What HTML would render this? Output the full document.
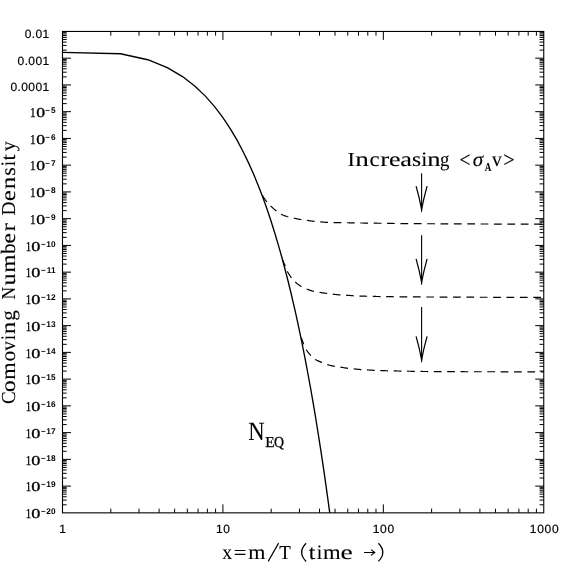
<!DOCTYPE html>
<html><head><meta charset="utf-8"><title>Comoving Number Density</title>
<style>
html,body{margin:0;padding:0;background:#fff;}
body{width:574px;height:574px;overflow:hidden;font-family:"Liberation Sans",sans-serif;}
svg{display:block}
text{fill:#000}
</style></head><body>
<svg width="574" height="574" viewBox="0 0 574 574">
<desc>Comoving Number Density versus x=m/T (time). Solid curve N EQ; dashed curves for Increasing annihilation cross section sigma A v.</desc>
<rect width="574" height="574" fill="#fff"/>
<path d="M110.79 512.85v-4.2M110.79 31.45v4.2M139.04 512.85v-4.2M139.04 31.45v4.2M159.08 512.85v-4.2M159.08 31.45v4.2M174.63 512.85v-4.2M174.63 31.45v4.2M187.33 512.85v-4.2M187.33 31.45v4.2M198.07 512.85v-4.2M198.07 31.45v4.2M207.37 512.85v-4.2M207.37 31.45v4.2M215.58 512.85v-4.2M215.58 31.45v4.2M222.92 512.85v-8.5M222.92 31.45v8.5M271.21 512.85v-4.2M271.21 31.45v4.2M299.45 512.85v-4.2M299.45 31.45v4.2M319.5 512.85v-4.2M319.5 31.45v4.2M335.04 512.85v-4.2M335.04 31.45v4.2M347.75 512.85v-4.2M347.75 31.45v4.2M358.48 512.85v-4.2M358.48 31.45v4.2M367.79 512.85v-4.2M367.79 31.45v4.2M375.99 512.85v-4.2M375.99 31.45v4.2M383.33 512.85v-8.5M383.33 31.45v8.5M431.62 512.85v-4.2M431.62 31.45v4.2M459.87 512.85v-4.2M459.87 31.45v4.2M479.91 512.85v-4.2M479.91 31.45v4.2M495.46 512.85v-4.2M495.46 31.45v4.2M508.16 512.85v-4.2M508.16 31.45v4.2M518.9 512.85v-4.2M518.9 31.45v4.2M528.2 512.85v-4.2M528.2 31.45v4.2M536.41 512.85v-4.2M536.41 31.45v4.2M62.5 58.19h8.5M543.75 58.19h-8.5M62.5 50.14h4.2M543.75 50.14h-4.2M62.5 45.43h4.2M543.75 45.43h-4.2M62.5 42.09h4.2M543.75 42.09h-4.2M62.5 39.5h4.2M543.75 39.5h-4.2M62.5 37.38h4.2M543.75 37.38h-4.2M62.5 35.59h4.2M543.75 35.59h-4.2M62.5 34.04h4.2M543.75 34.04h-4.2M62.5 32.67h4.2M543.75 32.67h-4.2M62.5 84.94h8.5M543.75 84.94h-8.5M62.5 76.89h4.2M543.75 76.89h-4.2M62.5 72.18h4.2M543.75 72.18h-4.2M62.5 68.84h4.2M543.75 68.84h-4.2M62.5 66.25h4.2M543.75 66.25h-4.2M62.5 64.13h4.2M543.75 64.13h-4.2M62.5 62.34h4.2M543.75 62.34h-4.2M62.5 60.79h4.2M543.75 60.79h-4.2M62.5 59.42h4.2M543.75 59.42h-4.2M62.5 111.68h8.5M543.75 111.68h-8.5M62.5 103.63h4.2M543.75 103.63h-4.2M62.5 98.92h4.2M543.75 98.92h-4.2M62.5 95.58h4.2M543.75 95.58h-4.2M62.5 92.99h4.2M543.75 92.99h-4.2M62.5 90.87h4.2M543.75 90.87h-4.2M62.5 89.08h4.2M543.75 89.08h-4.2M62.5 87.53h4.2M543.75 87.53h-4.2M62.5 86.16h4.2M543.75 86.16h-4.2M62.5 138.43h8.5M543.75 138.43h-8.5M62.5 130.38h4.2M543.75 130.38h-4.2M62.5 125.67h4.2M543.75 125.67h-4.2M62.5 122.33h4.2M543.75 122.33h-4.2M62.5 119.73h4.2M543.75 119.73h-4.2M62.5 117.62h4.2M543.75 117.62h-4.2M62.5 115.83h4.2M543.75 115.83h-4.2M62.5 114.28h4.2M543.75 114.28h-4.2M62.5 112.91h4.2M543.75 112.91h-4.2M62.5 165.17h8.5M543.75 165.17h-8.5M62.5 157.12h4.2M543.75 157.12h-4.2M62.5 152.41h4.2M543.75 152.41h-4.2M62.5 149.07h4.2M543.75 149.07h-4.2M62.5 146.48h4.2M543.75 146.48h-4.2M62.5 144.36h4.2M543.75 144.36h-4.2M62.5 142.57h4.2M543.75 142.57h-4.2M62.5 141.02h4.2M543.75 141.02h-4.2M62.5 139.65h4.2M543.75 139.65h-4.2M62.5 191.92h8.5M543.75 191.92h-8.5M62.5 183.87h4.2M543.75 183.87h-4.2M62.5 179.16h4.2M543.75 179.16h-4.2M62.5 175.81h4.2M543.75 175.81h-4.2M62.5 173.22h4.2M543.75 173.22h-4.2M62.5 171.11h4.2M543.75 171.11h-4.2M62.5 169.31h4.2M543.75 169.31h-4.2M62.5 167.76h4.2M543.75 167.76h-4.2M62.5 166.4h4.2M543.75 166.4h-4.2M62.5 218.66h8.5M543.75 218.66h-8.5M62.5 210.61h4.2M543.75 210.61h-4.2M62.5 205.9h4.2M543.75 205.9h-4.2M62.5 202.56h4.2M543.75 202.56h-4.2M62.5 199.97h4.2M543.75 199.97h-4.2M62.5 197.85h4.2M543.75 197.85h-4.2M62.5 196.06h4.2M543.75 196.06h-4.2M62.5 194.51h4.2M543.75 194.51h-4.2M62.5 193.14h4.2M543.75 193.14h-4.2M62.5 245.41h8.5M543.75 245.41h-8.5M62.5 237.35h4.2M543.75 237.35h-4.2M62.5 232.65h4.2M543.75 232.65h-4.2M62.5 229.3h4.2M543.75 229.3h-4.2M62.5 226.71h4.2M543.75 226.71h-4.2M62.5 224.59h4.2M543.75 224.59h-4.2M62.5 222.8h4.2M543.75 222.8h-4.2M62.5 221.25h4.2M543.75 221.25h-4.2M62.5 219.88h4.2M543.75 219.88h-4.2M62.5 272.15h8.5M543.75 272.15h-8.5M62.5 264.1h4.2M543.75 264.1h-4.2M62.5 259.39h4.2M543.75 259.39h-4.2M62.5 256.05h4.2M543.75 256.05h-4.2M62.5 253.46h4.2M543.75 253.46h-4.2M62.5 251.34h4.2M543.75 251.34h-4.2M62.5 249.55h4.2M543.75 249.55h-4.2M62.5 248h4.2M543.75 248h-4.2M62.5 246.63h4.2M543.75 246.63h-4.2M62.5 298.89h8.5M543.75 298.89h-8.5M62.5 290.84h4.2M543.75 290.84h-4.2M62.5 286.13h4.2M543.75 286.13h-4.2M62.5 282.79h4.2M543.75 282.79h-4.2M62.5 280.2h4.2M543.75 280.2h-4.2M62.5 278.08h4.2M543.75 278.08h-4.2M62.5 276.29h4.2M543.75 276.29h-4.2M62.5 274.74h4.2M543.75 274.74h-4.2M62.5 273.37h4.2M543.75 273.37h-4.2M62.5 325.64h8.5M543.75 325.64h-8.5M62.5 317.59h4.2M543.75 317.59h-4.2M62.5 312.88h4.2M543.75 312.88h-4.2M62.5 309.54h4.2M543.75 309.54h-4.2M62.5 306.95h4.2M543.75 306.95h-4.2M62.5 304.83h4.2M543.75 304.83h-4.2M62.5 303.04h4.2M543.75 303.04h-4.2M62.5 301.49h4.2M543.75 301.49h-4.2M62.5 300.12h4.2M543.75 300.12h-4.2M62.5 352.38h8.5M543.75 352.38h-8.5M62.5 344.33h4.2M543.75 344.33h-4.2M62.5 339.62h4.2M543.75 339.62h-4.2M62.5 336.28h4.2M543.75 336.28h-4.2M62.5 333.69h4.2M543.75 333.69h-4.2M62.5 331.57h4.2M543.75 331.57h-4.2M62.5 329.78h4.2M543.75 329.78h-4.2M62.5 328.23h4.2M543.75 328.23h-4.2M62.5 326.86h4.2M543.75 326.86h-4.2M62.5 379.13h8.5M543.75 379.13h-8.5M62.5 371.08h4.2M543.75 371.08h-4.2M62.5 366.37h4.2M543.75 366.37h-4.2M62.5 363.03h4.2M543.75 363.03h-4.2M62.5 360.43h4.2M543.75 360.43h-4.2M62.5 358.32h4.2M543.75 358.32h-4.2M62.5 356.53h4.2M543.75 356.53h-4.2M62.5 354.98h4.2M543.75 354.98h-4.2M62.5 353.61h4.2M543.75 353.61h-4.2M62.5 405.87h8.5M543.75 405.87h-8.5M62.5 397.82h4.2M543.75 397.82h-4.2M62.5 393.11h4.2M543.75 393.11h-4.2M62.5 389.77h4.2M543.75 389.77h-4.2M62.5 387.18h4.2M543.75 387.18h-4.2M62.5 385.06h4.2M543.75 385.06h-4.2M62.5 383.27h4.2M543.75 383.27h-4.2M62.5 381.72h4.2M543.75 381.72h-4.2M62.5 380.35h4.2M543.75 380.35h-4.2M62.5 432.62h8.5M543.75 432.62h-8.5M62.5 424.57h4.2M543.75 424.57h-4.2M62.5 419.86h4.2M543.75 419.86h-4.2M62.5 416.51h4.2M543.75 416.51h-4.2M62.5 413.92h4.2M543.75 413.92h-4.2M62.5 411.81h4.2M543.75 411.81h-4.2M62.5 410.01h4.2M543.75 410.01h-4.2M62.5 408.46h4.2M543.75 408.46h-4.2M62.5 407.1h4.2M543.75 407.1h-4.2M62.5 459.36h8.5M543.75 459.36h-8.5M62.5 451.31h4.2M543.75 451.31h-4.2M62.5 446.6h4.2M543.75 446.6h-4.2M62.5 443.26h4.2M543.75 443.26h-4.2M62.5 440.67h4.2M543.75 440.67h-4.2M62.5 438.55h4.2M543.75 438.55h-4.2M62.5 436.76h4.2M543.75 436.76h-4.2M62.5 435.21h4.2M543.75 435.21h-4.2M62.5 433.84h4.2M543.75 433.84h-4.2M62.5 486.11h8.5M543.75 486.11h-8.5M62.5 478.05h4.2M543.75 478.05h-4.2M62.5 473.35h4.2M543.75 473.35h-4.2M62.5 470h4.2M543.75 470h-4.2M62.5 467.41h4.2M543.75 467.41h-4.2M62.5 465.29h4.2M543.75 465.29h-4.2M62.5 463.5h4.2M543.75 463.5h-4.2M62.5 461.95h4.2M543.75 461.95h-4.2M62.5 460.58h4.2M543.75 460.58h-4.2M62.5 504.8h4.2M543.75 504.8h-4.2M62.5 500.09h4.2M543.75 500.09h-4.2M62.5 496.75h4.2M543.75 496.75h-4.2M62.5 494.16h4.2M543.75 494.16h-4.2M62.5 492.04h4.2M543.75 492.04h-4.2M62.5 490.25h4.2M543.75 490.25h-4.2M62.5 488.7h4.2M543.75 488.7h-4.2M62.5 487.33h4.2M543.75 487.33h-4.2" stroke="#000" stroke-width="1" fill="none"/>
<rect x="62.5" y="31.45" width="481.25" height="481.4" fill="none" stroke="#000" stroke-width="1.1"/>
<path d="M62.5 52.4 L120.53 53.76 L147.76 59.73 L167.29 67.62 L182.52 76.59 L195.02 86.24 L205.61 96.37 L214.8 106.85 L222.92 117.59 L230.19 128.55 L236.77 139.68 L242.78 150.95 L248.32 162.35 L253.45 173.84 L258.23 185.42 L262.7 197.08 L266.9 208.81 L270.86 220.59 L274.61 232.43 L278.16 244.32 L281.55 256.25 L284.77 268.22 L287.86 280.22 L290.81 292.26 L293.65 304.33 L296.37 316.42 L298.99 328.54 L301.51 340.69 L303.95 352.86 L306.31 365.04 L308.58 377.25 L310.79 389.48 L312.93 401.72 L315 413.98 L317.02 426.25 L318.97 438.54 L320.88 450.84 L322.73 463.15 L324.54 475.47 L326.3 487.81 L328.01 500.16 L329.69 512.51 L329.73 512.85" stroke="#000" stroke-width="1.35" fill="none" stroke-linejoin="round"/>
<path d="M261.8 194.3 L262.16 194.95 L262.52 195.58 L262.9 196.22 L263.28 196.84 L263.67 197.46 L264.08 198.07 L264.49 198.67 L264.9 199.27 L265.33 199.86 L265.76 200.45 L266.2 201.03 L266.65 201.6 L267.11 202.16 L267.59 202.72 L268.07 203.27 L268.57 203.81 L269.07 204.35 L269.57 204.87 L270.08 205.39 L270.6 205.91 L271.12 206.42 L271.65 206.93 L272.18 207.43 L272.72 207.93 L273.26 208.42 L273.81 208.91 L274.36 209.39 L274.92 209.86 L275.48 210.32 L276.05 210.78 L276.62 211.25 L277.19 211.71 L277.78 212.16 L278.37 212.6 L278.97 213.02 L279.58 213.41 L280.21 213.76 L280.85 214.09 L281.5 214.4 L282.16 214.71 L282.83 215.01 L283.51 215.29 L284.2 215.56 L284.89 215.82 L285.59 216.07 L286.28 216.3 L286.98 216.53 L287.68 216.74 L288.38 216.93 L289.08 217.12 L289.79 217.29 L290.51 217.45 L291.22 217.6 L291.94 217.75 L292.66 217.91 L293.37 218.06 L294.09 218.22 L294.8 218.37 L295.52 218.53 L296.23 218.68 L296.95 218.83 L297.66 218.98 L298.38 219.13 L299.1 219.27 L299.81 219.4 L300.53 219.52 L301.25 219.64 L301.98 219.75 L302.7 219.85 L303.42 219.95 L304.15 220.04 L304.87 220.13 L305.6 220.22 L306.32 220.32 L307.05 220.41 L307.77 220.51 L308.5 220.61 L309.22 220.72 L309.95 220.82 L310.67 220.91 L311.39 221.01 L312.12 221.1 L312.85 221.18 L313.57 221.26 L314.3 221.33 L315.03 221.39 L315.75 221.44 L316.48 221.5 L317.21 221.55 L317.94 221.6 L318.67 221.65 L319.4 221.71 L320.13 221.77 L320.86 221.85 L321.58 221.92 L322.31 222 L323.04 222.08 L323.77 222.16 L324.49 222.23 L325.22 222.29 L325.95 222.34 L326.68 222.38 L327.41 222.41 L328.14 222.43 L328.86 222.45 L329.59 222.47 L330.32 222.48 L331.05 222.5 L331.79 222.51 L332.52 222.53 L333.25 222.54 L333.98 222.55 L334.71 222.56 L335.44 222.57 L336.17 222.58 L336.9 222.59 L337.63 222.6 L338.36 222.61 L339.09 222.62 L339.83 222.63 L340.56 222.64 L341.29 222.65 L342.02 222.65 L342.75 222.66 L343.48 222.68 L344.21 222.69 L344.94 222.7 L345.67 222.71 L346.4 222.72 L347.13 222.74 L347.86 222.75 L348.6 222.76 L349.33 222.78 L350.06 222.79 L350.79 222.8 L351.52 222.82 L352.25 222.83 L352.98 222.85 L353.71 222.86 L354.44 222.87 L355.17 222.89 L355.9 222.9 L356.63 222.91 L357.36 222.93 L358.09 222.94 L358.82 222.95 L359.56 222.96 L360.29 222.98 L361.02 222.99 L361.75 223 L362.48 223.01 L363.21 223.02 L363.94 223.03 L364.67 223.04 L365.4 223.06 L366.13 223.07 L366.86 223.08 L367.59 223.09 L368.32 223.1 L369.05 223.11 L369.78 223.12 L370.52 223.13 L371.25 223.14 L371.98 223.15 L372.71 223.16 L373.44 223.17 L374.17 223.18 L374.9 223.19 L375.63 223.2 L376.36 223.21 L377.09 223.22 L377.82 223.23 L378.55 223.24 L379.28 223.25 L380.01 223.26 L380.74 223.27 L381.48 223.28 L382.21 223.29 L382.94 223.3 L383.67 223.31 L384.4 223.32 L385.13 223.33 L385.86 223.34 L386.59 223.35 L387.32 223.37 L388.05 223.38 L388.78 223.39 L389.51 223.4 L390.24 223.42 L390.97 223.43 L391.71 223.44 L392.44 223.45 L393.17 223.46 L393.9 223.48 L394.63 223.49 L395.36 223.5 L396.09 223.51 L396.82 223.52 L397.55 223.53 L398.28 223.54 L399.01 223.55 L399.74 223.56 L400.47 223.57 L401.2 223.58 L401.93 223.58 L402.67 223.59 L403.4 223.6 L404.13 223.6 L404.86 223.61 L405.59 223.62 L406.32 223.62 L407.05 223.63 L407.78 223.63 L408.51 223.64 L409.24 223.64 L409.97 223.65 L410.7 223.65 L411.43 223.66 L412.16 223.66 L412.9 223.67 L413.63 223.67 L414.36 223.68 L415.09 223.68 L415.82 223.68 L416.55 223.69 L417.28 223.69 L418.01 223.7 L418.74 223.7 L419.47 223.7 L420.2 223.71 L420.93 223.71 L421.66 223.72 L422.4 223.72 L423.13 223.72 L423.86 223.73 L424.59 223.73 L425.32 223.73 L426.05 223.74 L426.78 223.74 L427.51 223.74 L428.24 223.75 L428.97 223.75 L429.7 223.75 L430.43 223.76 L431.16 223.76 L431.89 223.76 L432.63 223.77 L433.36 223.77 L434.09 223.77 L434.82 223.78 L435.55 223.78 L436.28 223.78 L437.01 223.79 L437.74 223.79 L438.47 223.79 L439.2 223.8 L439.93 223.8 L440.66 223.8 L441.39 223.81 L442.13 223.81 L442.86 223.81 L443.59 223.82 L444.32 223.82 L445.05 223.82 L445.78 223.83 L446.51 223.83 L447.24 223.83 L447.97 223.84 L448.7 223.84 L449.43 223.84 L450.16 223.85 L450.89 223.85 L451.63 223.85 L452.36 223.86 L453.09 223.86 L453.82 223.86 L454.55 223.87 L455.28 223.87 L456.01 223.87 L456.74 223.88 L457.47 223.88 L458.2 223.88 L458.93 223.89 L459.66 223.89 L460.39 223.89 L461.12 223.9 L461.86 223.9 L462.59 223.9 L463.32 223.91 L464.05 223.91 L464.78 223.91 L465.51 223.92 L466.24 223.92 L466.97 223.92 L467.7 223.93 L468.43 223.93 L469.16 223.93 L469.89 223.93 L470.62 223.94 L471.36 223.94 L472.09 223.94 L472.82 223.95 L473.55 223.95 L474.28 223.95 L475.01 223.96 L475.74 223.96 L476.47 223.96 L477.2 223.97 L477.93 223.97 L478.66 223.97 L479.39 223.98 L480.12 223.98 L480.86 223.98 L481.59 223.98 L482.32 223.99 L483.05 223.99 L483.78 223.99 L484.51 224 L485.24 224 L485.97 224 L486.7 224.01 L487.43 224.01 L488.16 224.01 L488.89 224.01 L489.62 224.02 L490.36 224.02 L491.09 224.02 L491.82 224.03 L492.55 224.03 L493.28 224.03 L494.01 224.03 L494.74 224.04 L495.47 224.04 L496.2 224.04 L496.93 224.05 L497.66 224.05 L498.39 224.05 L499.12 224.05 L499.85 224.06 L500.59 224.06 L501.32 224.06 L502.05 224.07 L502.78 224.07 L503.51 224.07 L504.24 224.07 L504.97 224.08 L505.7 224.08 L506.43 224.08 L507.16 224.08 L507.89 224.09 L508.62 224.09 L509.35 224.09 L510.09 224.09 L510.82 224.1 L511.55 224.1 L512.28 224.1 L513.01 224.11 L513.74 224.11 L514.47 224.11 L515.2 224.11 L515.93 224.12 L516.66 224.12 L517.39 224.12 L518.12 224.12 L518.85 224.13 L519.59 224.13 L520.32 224.13 L521.05 224.13 L521.78 224.13 L522.51 224.14 L523.24 224.14 L523.97 224.14 L524.7 224.14 L525.43 224.15 L526.16 224.15 L526.89 224.15 L527.62 224.15 L528.35 224.16 L529.08 224.16 L529.82 224.16 L530.55 224.16 L531.28 224.16 L532.01 224.17 L532.74 224.17 L533.47 224.17 L534.2 224.17 L534.93 224.18 L535.66 224.18 L536.39 224.18 L537.12 224.18 L537.85 224.18 L538.58 224.19 L539.32 224.19 L540.05 224.19 L540.78 224.19 L541.51 224.19 L542.24 224.2 L542.97 224.2 L543.7 224.2" stroke="#000" stroke-width="1.2" fill="none" stroke-dasharray="7.72 5.65" stroke-dashoffset="12.08"/>
<path d="M282.6 260.1 L282.9 260.73 L283.19 261.36 L283.48 261.99 L283.76 262.62 L284.05 263.25 L284.32 263.89 L284.6 264.53 L284.87 265.16 L285.14 265.8 L285.4 266.44 L285.65 267.09 L285.89 267.75 L286.12 268.4 L286.36 269.06 L286.61 269.7 L286.88 270.34 L287.17 270.96 L287.48 271.58 L287.8 272.19 L288.13 272.8 L288.48 273.41 L288.83 274.01 L289.2 274.6 L289.58 275.19 L289.96 275.77 L290.36 276.35 L290.75 276.91 L291.16 277.47 L291.57 278.02 L291.99 278.57 L292.44 279.11 L292.89 279.64 L293.36 280.16 L293.84 280.66 L294.33 281.14 L294.83 281.61 L295.34 282.08 L295.87 282.53 L296.4 282.99 L296.94 283.43 L297.48 283.87 L298.04 284.3 L298.6 284.71 L299.17 285.12 L299.75 285.51 L300.33 285.89 L300.91 286.25 L301.5 286.6 L302.1 286.94 L302.71 287.25 L303.34 287.56 L303.97 287.86 L304.61 288.14 L305.25 288.41 L305.89 288.68 L306.53 288.93 L307.18 289.19 L307.83 289.44 L308.48 289.68 L309.13 289.93 L309.79 290.16 L310.45 290.39 L311.11 290.6 L311.77 290.81 L312.44 291 L313.11 291.18 L313.77 291.35 L314.45 291.5 L315.12 291.63 L315.81 291.76 L316.49 291.87 L317.18 291.98 L317.86 292.09 L318.55 292.2 L319.24 292.31 L319.92 292.42 L320.61 292.53 L321.29 292.64 L321.98 292.74 L322.66 292.85 L323.35 292.96 L324.03 293.06 L324.72 293.16 L325.4 293.26 L326.09 293.36 L326.78 293.46 L327.46 293.55 L328.15 293.64 L328.84 293.73 L329.53 293.82 L330.22 293.9 L330.9 293.98 L331.59 294.06 L332.28 294.14 L332.97 294.22 L333.66 294.29 L334.35 294.37 L335.04 294.45 L335.73 294.52 L336.42 294.59 L337.11 294.66 L337.8 294.73 L338.49 294.8 L339.18 294.86 L339.87 294.92 L340.56 294.97 L341.25 295.02 L341.95 295.06 L342.64 295.1 L343.33 295.13 L344.02 295.17 L344.72 295.2 L345.41 295.23 L346.1 295.26 L346.79 295.3 L347.49 295.33 L348.18 295.37 L348.87 295.41 L349.56 295.46 L350.26 295.52 L350.95 295.57 L351.64 295.63 L352.33 295.69 L353.02 295.74 L353.71 295.78 L354.4 295.81 L355.1 295.84 L355.79 295.87 L356.48 295.9 L357.17 295.92 L357.87 295.95 L358.56 295.98 L359.25 296 L359.94 296.03 L360.64 296.05 L361.33 296.08 L362.02 296.1 L362.72 296.12 L363.41 296.14 L364.1 296.17 L364.8 296.19 L365.49 296.21 L366.18 296.23 L366.87 296.25 L367.57 296.27 L368.26 296.29 L368.95 296.31 L369.65 296.32 L370.34 296.34 L371.03 296.36 L371.73 296.38 L372.42 296.39 L373.11 296.41 L373.81 296.42 L374.5 296.44 L375.2 296.45 L375.89 296.47 L376.58 296.48 L377.28 296.5 L377.97 296.51 L378.66 296.52 L379.36 296.54 L380.05 296.55 L380.74 296.56 L381.44 296.57 L382.13 296.58 L382.82 296.6 L383.52 296.61 L384.21 296.62 L384.91 296.63 L385.6 296.64 L386.29 296.65 L386.99 296.66 L387.68 296.67 L388.37 296.67 L389.07 296.68 L389.76 296.69 L390.45 296.7 L391.15 296.71 L391.84 296.72 L392.53 296.72 L393.23 296.73 L393.92 296.74 L394.61 296.75 L395.31 296.75 L396 296.76 L396.69 296.77 L397.39 296.77 L398.08 296.78 L398.77 296.79 L399.47 296.79 L400.16 296.8 L400.85 296.81 L401.55 296.81 L402.24 296.82 L402.93 296.82 L403.63 296.83 L404.32 296.84 L405.01 296.84 L405.71 296.85 L406.4 296.85 L407.09 296.86 L407.79 296.86 L408.48 296.87 L409.17 296.87 L409.87 296.88 L410.56 296.88 L411.25 296.89 L411.95 296.89 L412.64 296.9 L413.33 296.9 L414.03 296.91 L414.72 296.91 L415.42 296.92 L416.11 296.92 L416.8 296.92 L417.5 296.93 L418.19 296.93 L418.88 296.94 L419.58 296.94 L420.27 296.94 L420.96 296.95 L421.66 296.95 L422.35 296.96 L423.04 296.96 L423.74 296.96 L424.43 296.97 L425.12 296.97 L425.82 296.98 L426.51 296.98 L427.2 296.98 L427.9 296.99 L428.59 296.99 L429.28 296.99 L429.98 297 L430.67 297 L431.36 297 L432.06 297.01 L432.75 297.01 L433.44 297.01 L434.14 297.02 L434.83 297.02 L435.52 297.03 L436.22 297.03 L436.91 297.03 L437.61 297.04 L438.3 297.04 L438.99 297.04 L439.69 297.05 L440.38 297.05 L441.07 297.05 L441.77 297.06 L442.46 297.06 L443.15 297.06 L443.85 297.07 L444.54 297.07 L445.23 297.07 L445.93 297.08 L446.62 297.08 L447.31 297.08 L448.01 297.09 L448.7 297.09 L449.39 297.09 L450.09 297.1 L450.78 297.1 L451.47 297.1 L452.17 297.11 L452.86 297.11 L453.55 297.11 L454.25 297.12 L454.94 297.12 L455.63 297.12 L456.33 297.13 L457.02 297.13 L457.71 297.13 L458.41 297.14 L459.1 297.14 L459.79 297.14 L460.49 297.15 L461.18 297.15 L461.87 297.15 L462.57 297.16 L463.26 297.16 L463.96 297.16 L464.65 297.17 L465.34 297.17 L466.04 297.17 L466.73 297.18 L467.42 297.18 L468.12 297.18 L468.81 297.19 L469.5 297.19 L470.2 297.19 L470.89 297.2 L471.58 297.2 L472.28 297.2 L472.97 297.2 L473.66 297.21 L474.36 297.21 L475.05 297.21 L475.74 297.22 L476.44 297.22 L477.13 297.22 L477.82 297.23 L478.52 297.23 L479.21 297.23 L479.9 297.23 L480.6 297.24 L481.29 297.24 L481.98 297.24 L482.68 297.25 L483.37 297.25 L484.06 297.25 L484.76 297.25 L485.45 297.26 L486.14 297.26 L486.84 297.26 L487.53 297.26 L488.23 297.27 L488.92 297.27 L489.61 297.27 L490.31 297.28 L491 297.28 L491.69 297.28 L492.39 297.28 L493.08 297.29 L493.77 297.29 L494.47 297.29 L495.16 297.29 L495.85 297.3 L496.55 297.3 L497.24 297.3 L497.93 297.3 L498.63 297.3 L499.32 297.31 L500.01 297.31 L500.71 297.31 L501.4 297.31 L502.09 297.32 L502.79 297.32 L503.48 297.32 L504.17 297.32 L504.87 297.33 L505.56 297.33 L506.25 297.33 L506.95 297.33 L507.64 297.33 L508.33 297.34 L509.03 297.34 L509.72 297.34 L510.41 297.34 L511.11 297.34 L511.8 297.35 L512.5 297.35 L513.19 297.35 L513.88 297.35 L514.58 297.35 L515.27 297.35 L515.96 297.36 L516.66 297.36 L517.35 297.36 L518.04 297.36 L518.74 297.36 L519.43 297.36 L520.12 297.37 L520.82 297.37 L521.51 297.37 L522.2 297.37 L522.9 297.37 L523.59 297.37 L524.28 297.37 L524.98 297.38 L525.67 297.38 L526.36 297.38 L527.06 297.38 L527.75 297.38 L528.44 297.38 L529.14 297.38 L529.83 297.38 L530.52 297.39 L531.22 297.39 L531.91 297.39 L532.6 297.39 L533.3 297.39 L533.99 297.39 L534.69 297.39 L535.38 297.39 L536.07 297.39 L536.77 297.39 L537.46 297.39 L538.15 297.4 L538.85 297.4 L539.54 297.4 L540.23 297.4 L540.93 297.4 L541.62 297.4 L542.31 297.4 L543.01 297.4 L543.7 297.4" stroke="#000" stroke-width="1.2" fill="none" stroke-dasharray="7.72 5.65" stroke-dashoffset="1.11"/>
<path d="M301.3 337.6 L301.5 338.21 L301.71 338.82 L301.92 339.43 L302.13 340.04 L302.35 340.64 L302.58 341.24 L302.8 341.84 L303.04 342.44 L303.27 343.04 L303.51 343.63 L303.76 344.23 L304 344.82 L304.25 345.42 L304.5 346.02 L304.76 346.61 L305.02 347.2 L305.3 347.78 L305.59 348.35 L305.88 348.92 L306.2 349.46 L306.52 350.01 L306.87 350.54 L307.23 351.08 L307.6 351.6 L307.98 352.12 L308.38 352.64 L308.78 353.15 L309.2 353.65 L309.61 354.14 L310.04 354.63 L310.47 355.11 L310.9 355.59 L311.33 356.06 L311.77 356.53 L312.22 357 L312.69 357.46 L313.16 357.91 L313.65 358.34 L314.14 358.74 L314.65 359.1 L315.18 359.44 L315.72 359.75 L316.28 360.04 L316.85 360.33 L317.44 360.6 L318.03 360.86 L318.63 361.11 L319.23 361.35 L319.84 361.6 L320.45 361.84 L321.05 362.09 L321.64 362.33 L322.23 362.59 L322.82 362.85 L323.41 363.1 L324.01 363.36 L324.6 363.61 L325.2 363.86 L325.8 364.09 L326.4 364.3 L327 364.5 L327.62 364.69 L328.23 364.87 L328.85 365.04 L329.47 365.21 L330.09 365.37 L330.72 365.53 L331.34 365.68 L331.97 365.82 L332.6 365.96 L333.23 366.09 L333.87 366.21 L334.5 366.33 L335.13 366.44 L335.76 366.54 L336.4 366.63 L337.03 366.71 L337.67 366.79 L338.31 366.87 L338.95 366.95 L339.59 367.03 L340.22 367.12 L340.86 367.21 L341.49 367.31 L342.13 367.42 L342.76 367.52 L343.4 367.63 L344.03 367.73 L344.67 367.84 L345.3 367.94 L345.93 368.04 L346.57 368.13 L347.21 368.21 L347.84 368.29 L348.48 368.36 L349.12 368.43 L349.76 368.49 L350.4 368.55 L351.04 368.6 L351.68 368.66 L352.32 368.72 L352.96 368.78 L353.6 368.84 L354.24 368.91 L354.88 368.98 L355.52 369.05 L356.16 369.12 L356.79 369.19 L357.43 369.26 L358.07 369.33 L358.71 369.4 L359.35 369.46 L359.99 369.52 L360.63 369.57 L361.27 369.62 L361.91 369.66 L362.55 369.7 L363.19 369.74 L363.83 369.77 L364.48 369.8 L365.12 369.83 L365.76 369.86 L366.4 369.89 L367.04 369.92 L367.69 369.95 L368.33 369.98 L368.97 370.02 L369.61 370.05 L370.25 370.09 L370.89 370.12 L371.53 370.17 L372.18 370.22 L372.82 370.27 L373.46 370.31 L374.1 370.35 L374.74 370.39 L375.38 370.42 L376.02 370.44 L376.66 370.47 L377.31 370.49 L377.95 370.51 L378.59 370.53 L379.23 370.56 L379.87 370.58 L380.52 370.6 L381.16 370.61 L381.8 370.63 L382.44 370.65 L383.09 370.67 L383.73 370.69 L384.37 370.7 L385.01 370.72 L385.65 370.73 L386.3 370.75 L386.94 370.76 L387.58 370.78 L388.22 370.79 L388.87 370.8 L389.51 370.82 L390.15 370.83 L390.79 370.85 L391.44 370.86 L392.08 370.87 L392.72 370.88 L393.36 370.9 L394.01 370.91 L394.65 370.92 L395.29 370.94 L395.93 370.95 L396.58 370.96 L397.22 370.98 L397.86 370.99 L398.5 371 L399.15 371.02 L399.79 371.03 L400.43 371.05 L401.07 371.06 L401.72 371.08 L402.36 371.09 L403 371.1 L403.64 371.12 L404.28 371.13 L404.93 371.15 L405.57 371.16 L406.21 371.18 L406.85 371.19 L407.5 371.2 L408.14 371.22 L408.78 371.23 L409.42 371.25 L410.07 371.26 L410.71 371.27 L411.35 371.29 L411.99 371.3 L412.64 371.31 L413.28 371.33 L413.92 371.34 L414.56 371.35 L415.2 371.36 L415.85 371.37 L416.49 371.39 L417.13 371.4 L417.77 371.41 L418.42 371.42 L419.06 371.43 L419.7 371.44 L420.34 371.45 L420.99 371.46 L421.63 371.47 L422.27 371.47 L422.91 371.48 L423.56 371.49 L424.2 371.5 L424.84 371.5 L425.48 371.51 L426.13 371.52 L426.77 371.52 L427.41 371.53 L428.05 371.54 L428.7 371.54 L429.34 371.55 L429.98 371.56 L430.62 371.56 L431.27 371.57 L431.91 371.57 L432.55 371.58 L433.19 371.59 L433.84 371.59 L434.48 371.6 L435.12 371.6 L435.76 371.61 L436.41 371.61 L437.05 371.62 L437.69 371.62 L438.33 371.63 L438.97 371.63 L439.62 371.64 L440.26 371.64 L440.9 371.65 L441.54 371.65 L442.19 371.66 L442.83 371.66 L443.47 371.66 L444.11 371.67 L444.76 371.67 L445.4 371.67 L446.04 371.68 L446.68 371.68 L447.33 371.68 L447.97 371.69 L448.61 371.69 L449.25 371.69 L449.9 371.69 L450.54 371.7 L451.18 371.7 L451.82 371.7 L452.47 371.7 L453.11 371.7 L453.75 371.7 L454.39 371.7 L455.04 371.71 L455.68 371.71 L456.32 371.71 L456.96 371.71 L457.61 371.71 L458.25 371.71 L458.89 371.71 L459.53 371.72 L460.18 371.72 L460.82 371.72 L461.46 371.72 L462.1 371.72 L462.75 371.72 L463.39 371.72 L464.03 371.72 L464.67 371.73 L465.32 371.73 L465.96 371.73 L466.6 371.73 L467.24 371.73 L467.89 371.73 L468.53 371.73 L469.17 371.73 L469.81 371.73 L470.46 371.74 L471.1 371.74 L471.74 371.74 L472.38 371.74 L473.03 371.74 L473.67 371.74 L474.31 371.74 L474.95 371.74 L475.6 371.74 L476.24 371.75 L476.88 371.75 L477.52 371.75 L478.17 371.75 L478.81 371.75 L479.45 371.75 L480.09 371.75 L480.74 371.75 L481.38 371.75 L482.02 371.75 L482.66 371.76 L483.31 371.76 L483.95 371.76 L484.59 371.76 L485.23 371.76 L485.88 371.76 L486.52 371.76 L487.16 371.76 L487.8 371.76 L488.45 371.76 L489.09 371.76 L489.73 371.77 L490.37 371.77 L491.02 371.77 L491.66 371.77 L492.3 371.77 L492.94 371.77 L493.59 371.77 L494.23 371.77 L494.87 371.77 L495.51 371.77 L496.16 371.77 L496.8 371.77 L497.44 371.77 L498.08 371.78 L498.73 371.78 L499.37 371.78 L500.01 371.78 L500.65 371.78 L501.3 371.78 L501.94 371.78 L502.58 371.78 L503.22 371.78 L503.87 371.78 L504.51 371.78 L505.15 371.78 L505.79 371.78 L506.44 371.78 L507.08 371.78 L507.72 371.78 L508.36 371.79 L509.01 371.79 L509.65 371.79 L510.29 371.79 L510.93 371.79 L511.58 371.79 L512.22 371.79 L512.86 371.79 L513.5 371.79 L514.15 371.79 L514.79 371.79 L515.43 371.79 L516.07 371.79 L516.72 371.79 L517.36 371.79 L518 371.79 L518.64 371.79 L519.29 371.79 L519.93 371.79 L520.57 371.79 L521.21 371.79 L521.86 371.79 L522.5 371.79 L523.14 371.79 L523.78 371.8 L524.43 371.8 L525.07 371.8 L525.71 371.8 L526.35 371.8 L527 371.8 L527.64 371.8 L528.28 371.8 L528.92 371.8 L529.57 371.8 L530.21 371.8 L530.85 371.8 L531.49 371.8 L532.14 371.8 L532.78 371.8 L533.42 371.8 L534.06 371.8 L534.71 371.8 L535.35 371.8 L535.99 371.8 L536.63 371.8 L537.28 371.8 L537.92 371.8 L538.56 371.8 L539.2 371.8 L539.85 371.8 L540.49 371.8 L541.13 371.8 L541.77 371.8 L542.42 371.8 L543.06 371.8 L543.7 371.8" stroke="#000" stroke-width="1.2" fill="none" stroke-dasharray="7.72 5.65" stroke-dashoffset="0.54"/>
<path d="M421.6 173.3V211.5" stroke="#000" stroke-width="1.1" fill="none"/>
<path d="M416.1 186.1Q419.6 198.5 421.6 209.5Q423.6 198.5 427.1 186.1" stroke="#000" stroke-width="1.25" fill="none" stroke-linejoin="miter" stroke-miterlimit="10"/>
<path d="M421.6 235.3V284.2" stroke="#000" stroke-width="1.1" fill="none"/>
<path d="M416.1 258.8Q419.6 271.2 421.6 282.2Q423.6 271.2 427.1 258.8" stroke="#000" stroke-width="1.25" fill="none" stroke-linejoin="miter" stroke-miterlimit="10"/>
<path d="M421.6 307.1V361.8" stroke="#000" stroke-width="1.1" fill="none"/>
<path d="M416.1 336.40000000000003Q419.6 348.8 421.6 359.8Q423.6 348.8 427.1 336.40000000000003" stroke="#000" stroke-width="1.25" fill="none" stroke-linejoin="miter" stroke-miterlimit="10"/>
<path d="M268.2 561.4L278.6 543.1" stroke="#000" stroke-width="1.15" fill="none"/>
<path d="M306.1 543.3Q297.2 552.4 306.1 561.5M378.4 543.2Q387.2 552.3 378.4 561.4" stroke="#000" stroke-width="1.25" fill="none"/>
<path d="M364.1 552.5H374.6M371 549.6L374.8 552.5L371 555.4" stroke="#000" stroke-width="1.1" fill="none"/>
<g style="will-change:transform" text-rendering="geometricPrecision">
<text x="62.9" y="532.9" font-family="Liberation Sans, sans-serif" font-size="12" text-anchor="middle" letter-spacing="0.7" stroke="#000" stroke-width="0.2">1</text>
<text x="223.32" y="532.9" font-family="Liberation Sans, sans-serif" font-size="12" text-anchor="middle" letter-spacing="0.7" stroke="#000" stroke-width="0.2">10</text>
<text x="383.73" y="532.9" font-family="Liberation Sans, sans-serif" font-size="12" text-anchor="middle" letter-spacing="0.7" stroke="#000" stroke-width="0.2">100</text>
<text x="544.55" y="532.9" font-family="Liberation Sans, sans-serif" font-size="12" text-anchor="middle" letter-spacing="0.7" stroke="#000" stroke-width="0.2">1000</text>
<text x="49.6" y="37.95" font-family="Liberation Sans, sans-serif" font-size="12" text-anchor="end" letter-spacing="0.4" stroke="#000" stroke-width="0.2">0.01</text>
<text x="49.6" y="64.69" font-family="Liberation Sans, sans-serif" font-size="12" text-anchor="end" letter-spacing="0.4" stroke="#000" stroke-width="0.2">0.001</text>
<text x="49.6" y="91.44" font-family="Liberation Sans, sans-serif" font-size="12" text-anchor="end" letter-spacing="0.4" stroke="#000" stroke-width="0.2">0.0001</text>
<text transform="translate(30.001 116.983) scale(0.835 1)" font-family="Liberation Serif" font-size="13.6" stroke="#000" stroke-width="0.3">1</text>
<text transform="translate(36.126 116.983) scale(1.301 1)" font-family="Liberation Serif" font-size="13.6" stroke="#000" stroke-width="0.3">0</text>
<text x="45.2" y="112.88" font-family="Liberation Sans, sans-serif" font-size="8" font-weight="bold">−</text>
<text x="55.5" y="112.88" font-family="Liberation Sans, sans-serif" font-size="8.3" font-weight="bold" text-anchor="end">5</text>
<text transform="translate(30.001 143.728) scale(0.835 1)" font-family="Liberation Serif" font-size="13.6" stroke="#000" stroke-width="0.3">1</text>
<text transform="translate(36.126 143.728) scale(1.301 1)" font-family="Liberation Serif" font-size="13.6" stroke="#000" stroke-width="0.3">0</text>
<text x="45.2" y="139.63" font-family="Liberation Sans, sans-serif" font-size="8" font-weight="bold">−</text>
<text x="55.5" y="139.63" font-family="Liberation Sans, sans-serif" font-size="8.3" font-weight="bold" text-anchor="end">6</text>
<text transform="translate(30.001 170.472) scale(0.835 1)" font-family="Liberation Serif" font-size="13.6" stroke="#000" stroke-width="0.3">1</text>
<text transform="translate(36.126 170.472) scale(1.301 1)" font-family="Liberation Serif" font-size="13.6" stroke="#000" stroke-width="0.3">0</text>
<text x="45.2" y="166.37" font-family="Liberation Sans, sans-serif" font-size="8" font-weight="bold">−</text>
<text x="55.5" y="166.37" font-family="Liberation Sans, sans-serif" font-size="8.3" font-weight="bold" text-anchor="end">7</text>
<text transform="translate(30.001 197.217) scale(0.835 1)" font-family="Liberation Serif" font-size="13.6" stroke="#000" stroke-width="0.3">1</text>
<text transform="translate(36.126 197.217) scale(1.301 1)" font-family="Liberation Serif" font-size="13.6" stroke="#000" stroke-width="0.3">0</text>
<text x="45.2" y="193.12" font-family="Liberation Sans, sans-serif" font-size="8" font-weight="bold">−</text>
<text x="55.5" y="193.12" font-family="Liberation Sans, sans-serif" font-size="8.3" font-weight="bold" text-anchor="end">8</text>
<text transform="translate(30.001 223.961) scale(0.835 1)" font-family="Liberation Serif" font-size="13.6" stroke="#000" stroke-width="0.3">1</text>
<text transform="translate(36.126 223.961) scale(1.301 1)" font-family="Liberation Serif" font-size="13.6" stroke="#000" stroke-width="0.3">0</text>
<text x="45.2" y="219.86" font-family="Liberation Sans, sans-serif" font-size="8" font-weight="bold">−</text>
<text x="55.5" y="219.86" font-family="Liberation Sans, sans-serif" font-size="8.3" font-weight="bold" text-anchor="end">9</text>
<text transform="translate(25.851 250.706) scale(0.794 1)" font-family="Liberation Serif" font-size="13.6" stroke="#000" stroke-width="0.3">1</text>
<text transform="translate(31.308 250.706) scale(1.336 1)" font-family="Liberation Serif" font-size="13.6" stroke="#000" stroke-width="0.3">0</text>
<text x="41" y="246.61" font-family="Liberation Sans, sans-serif" font-size="8" font-weight="bold">−</text>
<text x="55.5" y="246.61" font-family="Liberation Sans, sans-serif" font-size="8.3" font-weight="bold" text-anchor="end">10</text>
<text transform="translate(25.851 277.45) scale(0.794 1)" font-family="Liberation Serif" font-size="13.6" stroke="#000" stroke-width="0.3">1</text>
<text transform="translate(31.308 277.45) scale(1.336 1)" font-family="Liberation Serif" font-size="13.6" stroke="#000" stroke-width="0.3">0</text>
<text x="41" y="273.35" font-family="Liberation Sans, sans-serif" font-size="8" font-weight="bold">−</text>
<text x="55.5" y="273.35" font-family="Liberation Sans, sans-serif" font-size="8.3" font-weight="bold" text-anchor="end">11</text>
<text transform="translate(25.851 304.194) scale(0.794 1)" font-family="Liberation Serif" font-size="13.6" stroke="#000" stroke-width="0.3">1</text>
<text transform="translate(31.308 304.194) scale(1.336 1)" font-family="Liberation Serif" font-size="13.6" stroke="#000" stroke-width="0.3">0</text>
<text x="41" y="300.09" font-family="Liberation Sans, sans-serif" font-size="8" font-weight="bold">−</text>
<text x="55.5" y="300.09" font-family="Liberation Sans, sans-serif" font-size="8.3" font-weight="bold" text-anchor="end">12</text>
<text transform="translate(25.851 330.939) scale(0.794 1)" font-family="Liberation Serif" font-size="13.6" stroke="#000" stroke-width="0.3">1</text>
<text transform="translate(31.308 330.939) scale(1.336 1)" font-family="Liberation Serif" font-size="13.6" stroke="#000" stroke-width="0.3">0</text>
<text x="41" y="326.84" font-family="Liberation Sans, sans-serif" font-size="8" font-weight="bold">−</text>
<text x="55.5" y="326.84" font-family="Liberation Sans, sans-serif" font-size="8.3" font-weight="bold" text-anchor="end">13</text>
<text transform="translate(25.851 357.683) scale(0.794 1)" font-family="Liberation Serif" font-size="13.6" stroke="#000" stroke-width="0.3">1</text>
<text transform="translate(31.308 357.683) scale(1.336 1)" font-family="Liberation Serif" font-size="13.6" stroke="#000" stroke-width="0.3">0</text>
<text x="41" y="353.58" font-family="Liberation Sans, sans-serif" font-size="8" font-weight="bold">−</text>
<text x="55.5" y="353.58" font-family="Liberation Sans, sans-serif" font-size="8.3" font-weight="bold" text-anchor="end">14</text>
<text transform="translate(25.851 384.428) scale(0.794 1)" font-family="Liberation Serif" font-size="13.6" stroke="#000" stroke-width="0.3">1</text>
<text transform="translate(31.308 384.428) scale(1.336 1)" font-family="Liberation Serif" font-size="13.6" stroke="#000" stroke-width="0.3">0</text>
<text x="41" y="380.33" font-family="Liberation Sans, sans-serif" font-size="8" font-weight="bold">−</text>
<text x="55.5" y="380.33" font-family="Liberation Sans, sans-serif" font-size="8.3" font-weight="bold" text-anchor="end">15</text>
<text transform="translate(25.851 411.172) scale(0.794 1)" font-family="Liberation Serif" font-size="13.6" stroke="#000" stroke-width="0.3">1</text>
<text transform="translate(31.308 411.172) scale(1.336 1)" font-family="Liberation Serif" font-size="13.6" stroke="#000" stroke-width="0.3">0</text>
<text x="41" y="407.07" font-family="Liberation Sans, sans-serif" font-size="8" font-weight="bold">−</text>
<text x="55.5" y="407.07" font-family="Liberation Sans, sans-serif" font-size="8.3" font-weight="bold" text-anchor="end">16</text>
<text transform="translate(25.851 437.917) scale(0.794 1)" font-family="Liberation Serif" font-size="13.6" stroke="#000" stroke-width="0.3">1</text>
<text transform="translate(31.308 437.917) scale(1.336 1)" font-family="Liberation Serif" font-size="13.6" stroke="#000" stroke-width="0.3">0</text>
<text x="41" y="433.82" font-family="Liberation Sans, sans-serif" font-size="8" font-weight="bold">−</text>
<text x="55.5" y="433.82" font-family="Liberation Sans, sans-serif" font-size="8.3" font-weight="bold" text-anchor="end">17</text>
<text transform="translate(25.851 464.661) scale(0.794 1)" font-family="Liberation Serif" font-size="13.6" stroke="#000" stroke-width="0.3">1</text>
<text transform="translate(31.308 464.661) scale(1.336 1)" font-family="Liberation Serif" font-size="13.6" stroke="#000" stroke-width="0.3">0</text>
<text x="41" y="460.56" font-family="Liberation Sans, sans-serif" font-size="8" font-weight="bold">−</text>
<text x="55.5" y="460.56" font-family="Liberation Sans, sans-serif" font-size="8.3" font-weight="bold" text-anchor="end">18</text>
<text transform="translate(25.851 491.406) scale(0.794 1)" font-family="Liberation Serif" font-size="13.6" stroke="#000" stroke-width="0.3">1</text>
<text transform="translate(31.308 491.406) scale(1.336 1)" font-family="Liberation Serif" font-size="13.6" stroke="#000" stroke-width="0.3">0</text>
<text x="41" y="487.31" font-family="Liberation Sans, sans-serif" font-size="8" font-weight="bold">−</text>
<text x="55.5" y="487.31" font-family="Liberation Sans, sans-serif" font-size="8.3" font-weight="bold" text-anchor="end">19</text>
<text transform="translate(25.851 518.15) scale(0.794 1)" font-family="Liberation Serif" font-size="13.6" stroke="#000" stroke-width="0.3">1</text>
<text transform="translate(31.308 518.15) scale(1.336 1)" font-family="Liberation Serif" font-size="13.6" stroke="#000" stroke-width="0.3">0</text>
<text x="41" y="514.05" font-family="Liberation Sans, sans-serif" font-size="8" font-weight="bold">−</text>
<text x="55.5" y="514.05" font-family="Liberation Sans, sans-serif" font-size="8.3" font-weight="bold" text-anchor="end">20</text>
<text transform="translate(347.399 165.8) scale(1.119 1)" font-family="Liberation Serif" font-size="19.8" stroke="#000" stroke-width="0.1">I</text>
<text transform="translate(355.274 165.8) scale(1.378 1.04)" font-family="Liberation Serif" font-size="19.8" stroke="#000" stroke-width="0.1">n</text>
<text transform="translate(369.537 165.8) scale(1.145 1.04)" font-family="Liberation Serif" font-size="19.8" stroke="#000" stroke-width="0.1">c</text>
<text transform="translate(380.26 165.8) scale(1.361 1.04)" font-family="Liberation Serif" font-size="19.8" stroke="#000" stroke-width="0.1">r</text>
<text transform="translate(388.987 165.8) scale(1.31 1.04)" font-family="Liberation Serif" font-size="19.8" stroke="#000" stroke-width="0.1">e</text>
<text transform="translate(400.174 165.8) scale(1.33 1.04)" font-family="Liberation Serif" font-size="19.8" stroke="#000" stroke-width="0.1">a</text>
<text transform="translate(412.04 165.8) scale(1.182 1.04)" font-family="Liberation Serif" font-size="19.8" stroke="#000" stroke-width="0.1">s</text>
<text transform="translate(421.141 165.8) scale(1.104 1.04)" font-family="Liberation Serif" font-size="19.8" stroke="#000" stroke-width="0.1">i</text>
<text transform="translate(427.289 165.8) scale(1.345 1.04)" font-family="Liberation Serif" font-size="19.8" stroke="#000" stroke-width="0.1">n</text>
<text transform="translate(439.996 165.8) scale(0.946 1.04)" font-family="Liberation Serif" font-size="19.8" stroke="#000" stroke-width="0.1">g</text>
<text transform="translate(459.426 167.3) scale(0.988 1.12)" font-family="Liberation Serif" font-size="19.8" stroke="#000" stroke-width="0.1">&lt;</text>
<text transform="translate(472.768 165.8) scale(1.071 1.04)" font-family="Liberation Serif" font-size="19.8" font-style="italic" stroke="#000" stroke-width="0.1">σ</text>
<text transform="translate(484.711 171.2) scale(0.756 1)" font-family="Liberation Serif" font-size="12" font-weight="bold" stroke="#000" stroke-width="0.1">A</text>
<text transform="translate(492.1 165.8) scale(0.98 1.04)" font-family="Liberation Serif" font-size="19.8" stroke="#000" stroke-width="0.1">v</text>
<text transform="translate(503.274 167.3) scale(1.02 1.12)" font-family="Liberation Serif" font-size="19.8" stroke="#000" stroke-width="0.1">&gt;</text>
<text transform="translate(222.228 558.8) scale(0.991 1.04)" font-family="Liberation Serif" font-size="19.8" stroke="#000" stroke-width="0.1">x</text>
<text transform="translate(233.776 558.8) scale(1.14 1)" font-family="Liberation Serif" font-size="19.8" stroke="#000" stroke-width="0.1">=</text>
<text transform="translate(248.135 558.8) scale(1.117 1.04)" font-family="Liberation Serif" font-size="19.8" stroke="#000" stroke-width="0.1">m</text>
<text transform="translate(279.158 558.8) scale(0.955 1)" font-family="Liberation Serif" font-size="19.8" stroke="#000" stroke-width="0.1">T</text>
<text transform="translate(308.669 558.8) scale(1.194 1.04)" font-family="Liberation Serif" font-size="19.8" stroke="#000" stroke-width="0.1">t</text>
<text transform="translate(316.785 558.8) scale(0.998 1.04)" font-family="Liberation Serif" font-size="19.8" stroke="#000" stroke-width="0.1">i</text>
<text transform="translate(322.924 558.8) scale(1.145 1.04)" font-family="Liberation Serif" font-size="19.8" stroke="#000" stroke-width="0.1">m</text>
<text transform="translate(340.423 558.8) scale(1.392 1.04)" font-family="Liberation Serif" font-size="19.8" stroke="#000" stroke-width="0.1">e</text>
<text transform="translate(15.3 403.976) rotate(-90) scale(0.956 1)" font-family="Liberation Serif" font-size="19.8" stroke="#000" stroke-width="0.1">C</text>
<text transform="translate(15.3 391.881) rotate(-90) scale(1.168 1.04)" font-family="Liberation Serif" font-size="19.8" stroke="#000" stroke-width="0.1">o</text>
<text transform="translate(15.3 379.77) rotate(-90) scale(1.131 1.04)" font-family="Liberation Serif" font-size="19.8" stroke="#000" stroke-width="0.1">m</text>
<text transform="translate(15.3 361.527) rotate(-90) scale(1.096 1.04)" font-family="Liberation Serif" font-size="19.8" stroke="#000" stroke-width="0.1">o</text>
<text transform="translate(15.3 350.6) rotate(-90) scale(0.929 1.04)" font-family="Liberation Serif" font-size="19.8" stroke="#000" stroke-width="0.1">v</text>
<text transform="translate(15.3 339.971) rotate(-90) scale(0.892 1.04)" font-family="Liberation Serif" font-size="19.8" stroke="#000" stroke-width="0.1">i</text>
<text transform="translate(15.3 334.171) rotate(-90) scale(1.257 1.04)" font-family="Liberation Serif" font-size="19.8" stroke="#000" stroke-width="0.1">n</text>
<text transform="translate(15.3 320.812) rotate(-90) scale(1.072 1.04)" font-family="Liberation Serif" font-size="19.8" stroke="#000" stroke-width="0.1">g</text>
<text transform="translate(15.3 299.403) rotate(-90) scale(0.881 1)" font-family="Liberation Serif" font-size="19.8" stroke="#000" stroke-width="0.1">N</text>
<text transform="translate(15.3 285.617) rotate(-90) scale(1.215 1.04)" font-family="Liberation Serif" font-size="19.8" stroke="#000" stroke-width="0.1">u</text>
<text transform="translate(15.3 272.587) rotate(-90) scale(1.172 1.04)" font-family="Liberation Serif" font-size="19.8" stroke="#000" stroke-width="0.1">m</text>
<text transform="translate(15.3 254) rotate(-90) scale(1.072 1.04)" font-family="Liberation Serif" font-size="19.8" stroke="#000" stroke-width="0.1">b</text>
<text transform="translate(15.3 243.618) rotate(-90) scale(1.187 1.04)" font-family="Liberation Serif" font-size="19.8" stroke="#000" stroke-width="0.1">e</text>
<text transform="translate(15.3 231.507) rotate(-90) scale(1.278 1.04)" font-family="Liberation Serif" font-size="19.8" stroke="#000" stroke-width="0.1">r</text>
<text transform="translate(15.3 215.56) rotate(-90) scale(0.982 1)" font-family="Liberation Serif" font-size="19.8" stroke="#000" stroke-width="0.1">D</text>
<text transform="translate(15.3 201.271) rotate(-90) scale(1.255 1.04)" font-family="Liberation Serif" font-size="19.8" stroke="#000" stroke-width="0.1">e</text>
<text transform="translate(15.3 189.181) rotate(-90) scale(1.279 1.04)" font-family="Liberation Serif" font-size="19.8" stroke="#000" stroke-width="0.1">n</text>
<text transform="translate(15.3 175.807) rotate(-90) scale(1.117 1.04)" font-family="Liberation Serif" font-size="19.8" stroke="#000" stroke-width="0.1">s</text>
<text transform="translate(15.3 166.062) rotate(-90) scale(0.871 1.04)" font-family="Liberation Serif" font-size="19.8" stroke="#000" stroke-width="0.1">i</text>
<text transform="translate(15.3 160.416) rotate(-90) scale(1.117 1.04)" font-family="Liberation Serif" font-size="19.8" stroke="#000" stroke-width="0.1">t</text>
<text transform="translate(15.3 151.247) rotate(-90) scale(1.023 1.04)" font-family="Liberation Serif" font-size="19.8" stroke="#000" stroke-width="0.1">y</text>
<text transform="translate(248.247 439.6) scale(0.859 1)" font-family="Liberation Serif" font-size="26.4" stroke="#000" stroke-width="0.1">N</text>
<text transform="translate(265.162 446.6) scale(1.008 1)" font-family="Liberation Serif" font-size="15.1" stroke="#000" stroke-width="0.3">E</text>
<text transform="translate(273.932 446.6) scale(0.917 1)" font-family="Liberation Serif" font-size="15.1" stroke="#000" stroke-width="0.3">Q</text>
</g>
</svg>
</body></html>
